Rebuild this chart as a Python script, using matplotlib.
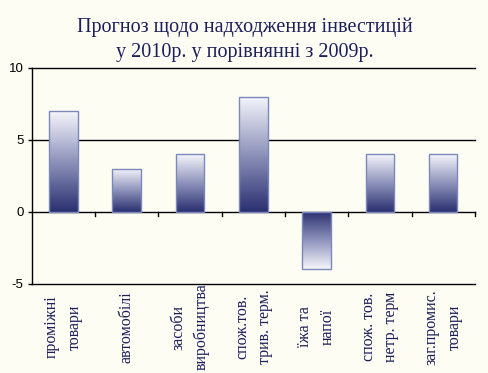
import matplotlib
matplotlib.use('Agg')
import matplotlib.pyplot as plt
import matplotlib.transforms as mtransforms
from matplotlib.colors import LinearSegmentedColormap
import numpy as np

# Chart data
categories = ['проміжні\nтовари', 'автомобілі', 'засоби\nвиробництва',
              'спож.тов.\nтрив. терм.', 'їжа та\nнапої', 'спож. тов.\nнетр. терм',
              'заг.промис.\nтовари']
values = [7, 3, 4, 8, -4, 4, 4]
yticks = [-5, 0, 5, 10]

bg = '#fdfdf3'
navy = '#1c1f5c'

fig = plt.figure(figsize=(4.89, 3.73), dpi=100, facecolor=bg)
ax = fig.add_axes([0.065, 0.239, 0.906, 0.579], facecolor=bg)

x = np.arange(len(categories))
ax.set_xlim(-0.5, len(categories) - 0.5)
ax.set_ylim(-5, 10)

cmap = LinearSegmentedColormap.from_list('grad', ['#2a2f70', '#8e93bb', '#f6f6fb'])
bars = ax.bar(x, values, width=0.45, facecolor='none', edgecolor='#7a88bc',
              linewidth=1.0, zorder=4)
for b, v in zip(bars, values):
    x0, w = b.get_x(), b.get_width()
    grad = np.linspace(0, 1, 256).reshape(-1, 1)
    if v < 0:
        grad = grad[::-1]
    lo, hi = min(0, v), max(0, v)
    im = ax.imshow(grad, cmap=cmap, aspect='auto', origin='lower',
                   extent=(x0, x0 + w, lo, hi), zorder=3)
    im.set_clip_path(b)

# horizontal lines at ticks
for t in yticks:
    ax.axhline(t, color='black', linewidth=1.0, zorder=2, clip_on=False)

# category separator ticks below the zero line
for s in np.arange(0.5, len(categories), 1.0):
    ax.plot([s, s], [0, -0.3], color='black', linewidth=1.0, zorder=2,
            clip_on=False)

for side in ['top', 'right', 'bottom']:
    ax.spines[side].set_visible(False)
ax.spines['left'].set_linewidth(1.0)

ax.set_yticks(yticks)
ax.set_yticklabels([str(t) for t in yticks], fontsize=9.5, family='Liberation Sans')
ax.tick_params(axis='y', length=3, width=1, pad=3)
ax.set_xticks([])

trans = mtransforms.blended_transform_factory(ax.transData, ax.transAxes)
for xi, lab in zip(x, categories):
    ax.text(xi, -0.2, lab, transform=trans, rotation=90, ha='center', va='center',
            multialignment='center', fontsize=11.5, family='Liberation Serif',
            color=navy, linespacing=1.55)

fig.text(0.5, 0.893, 'Прогноз щодо надходження інвестицій\nу 2010р. у порівнянні з 2009р.',
         ha='center', va='center', fontsize=14.5, family='Liberation Serif',
         color=navy, linespacing=1.4)

fig.savefig('out.png', dpi=100, facecolor=bg)
